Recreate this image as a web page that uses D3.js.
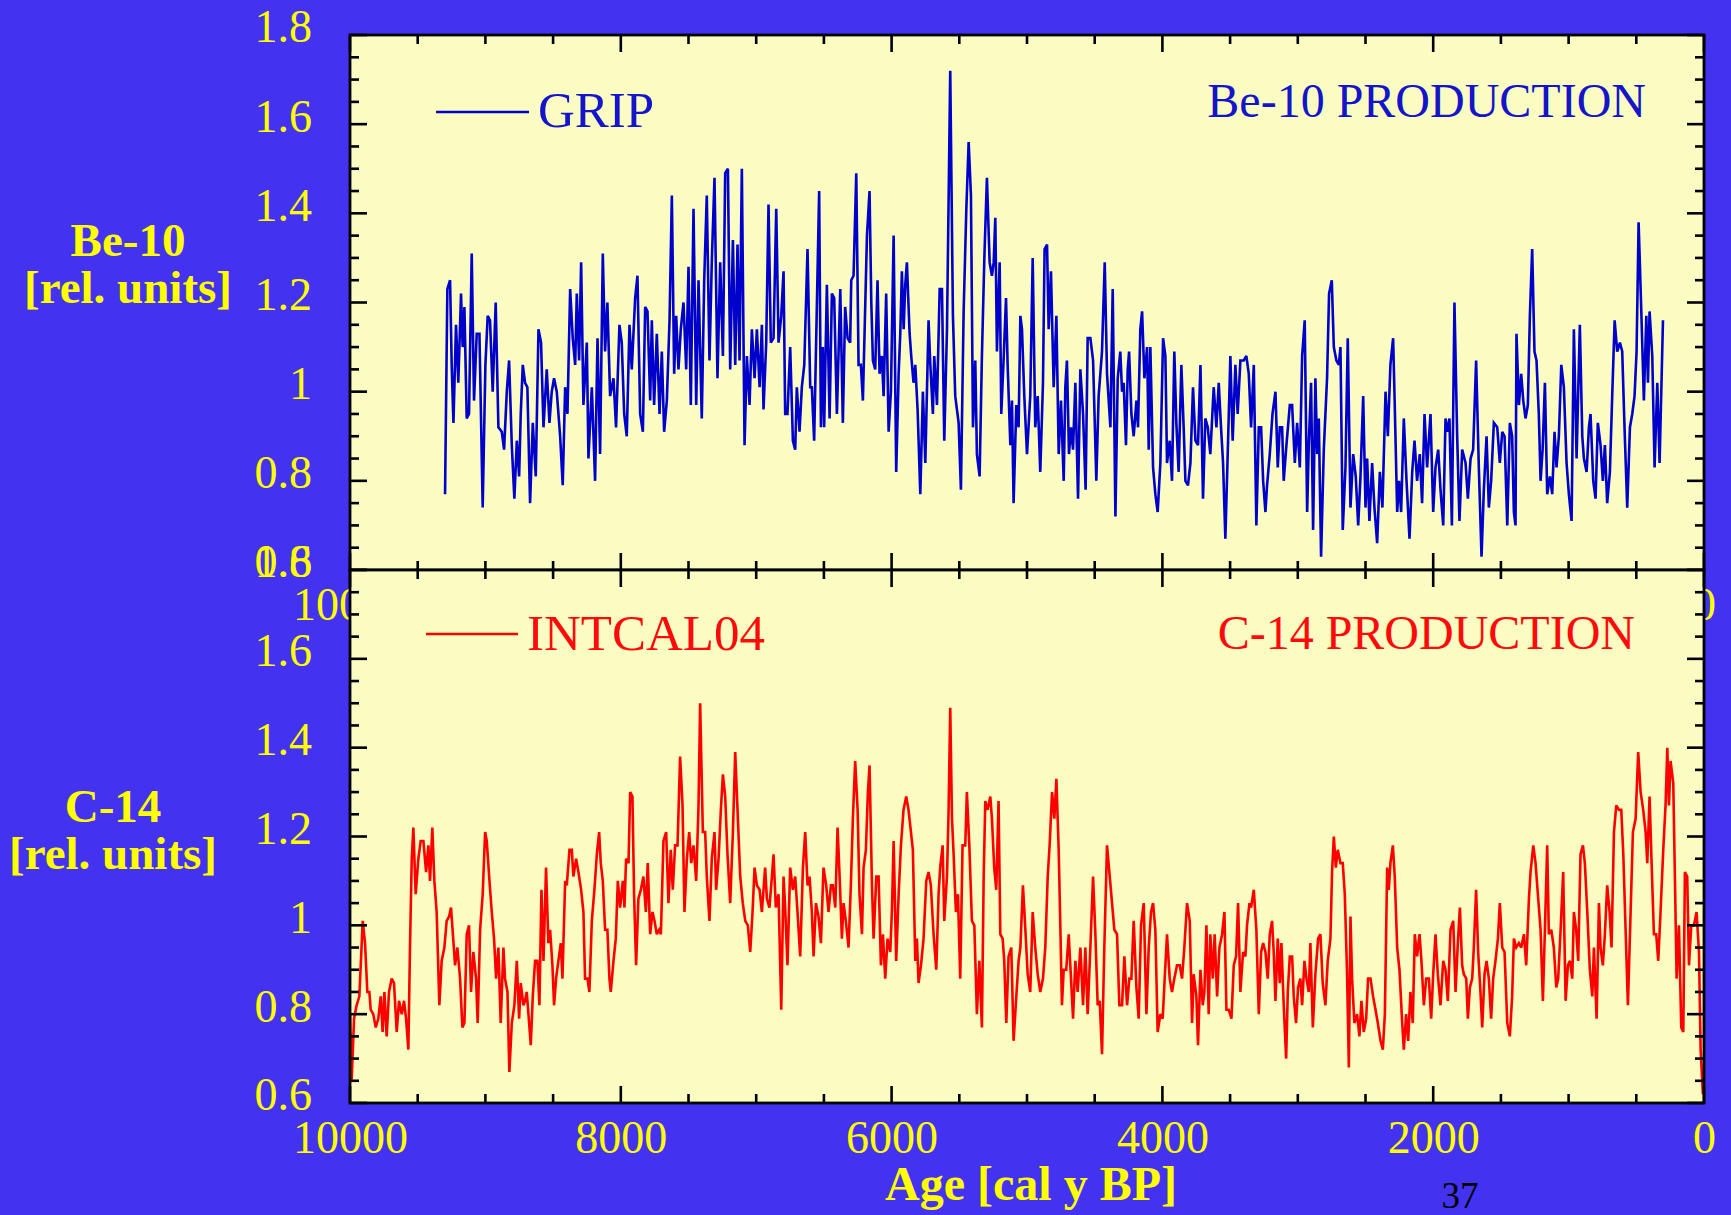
<!DOCTYPE html>
<html>
<head>
<meta charset="utf-8">
<script src="https://cdn.jsdelivr.net/npm/d3@7"></script>
<style>
  html, body { margin: 0; padding: 0; background: #4333f0; }
  svg { display: block; }
</style>
</head>
<body>
<svg id="chart" width="1731" height="1215"></svg>
<script>
// ---- tick definitions ----
const ageMajorTicks = [10000, 8000, 6000, 4000, 2000, 0];
const ageTickLabels = ["10000", "8000", "6000", "4000", "2000", "0"];
const valueMajorTicks = [0.6, 0.8, 1.0, 1.2, 1.4, 1.6, 1.8];
const valueTickLabels = ["0.6", "0.8", "1", "1.2", "1.4", "1.6", "1.8"];
const ageMinorStep = 500;
const valueMinorStep = 0.05;

// ---- series: [age (cal y BP), relative production] ----
const gripPoints = [
[9298,0.77],[9281,1.23],[9261,1.25],[9249,1.06],[9236,0.93],[9217,1.15],[9200,1.02],[9180,1.22],[9168,1.10],[9155,1.19],
[9138,0.94],[9121,0.95],[9101,1.31],[9084,0.98],[9064,1.13],[9044,1.13],[9020,0.74],[9000,1.06],[8983,1.17],[8966,1.16],
[8946,1.00],[8924,1.20],[8904,0.92],[8879,0.91],[8862,0.87],[8842,1.00],[8825,1.07],[8805,0.88],[8786,0.76],[8768,0.89],
[8751,0.81],[8739,0.95],[8724,1.06],[8707,1.02],[8690,1.01],[8670,0.75],[8650,0.93],[8628,0.81],[8608,1.14],[8589,1.11],
[8571,0.92],[8547,1.05],[8527,0.93],[8510,1.00],[8493,1.03],[8473,1.00],[8448,0.90],[8429,0.79],[8411,1.01],[8394,0.95],
[8374,1.23],[8355,1.12],[8337,1.06],[8325,1.22],[8308,1.07],[8293,1.29],[8276,0.97],[8251,1.11],[8239,0.85],[8214,1.01],
[8190,0.80],[8172,1.12],[8153,0.86],[8133,1.31],[8116,1.09],[8099,1.20],[8079,0.99],[8054,1.03],[8035,0.92],[8010,1.15],
[7993,1.11],[7975,0.95],[7956,0.90],[7936,1.15],[7919,1.05],[7894,1.21],[7877,1.26],[7857,0.95],[7837,0.91],[7820,1.19],
[7803,1.18],[7783,0.98],[7771,1.16],[7754,0.97],[7734,1.13],[7714,0.95],[7697,1.09],[7680,0.91],[7660,0.98],[7640,1.16],
[7623,1.44],[7606,1.04],[7591,1.17],[7574,1.05],[7557,1.14],[7537,1.20],[7517,1.05],[7500,1.28],[7483,0.97],[7463,1.41],
[7443,0.97],[7426,1.25],[7402,0.94],[7384,1.25],[7365,1.44],[7345,1.07],[7328,1.29],[7308,1.48],[7286,1.03],[7266,1.29],
[7246,1.08],[7229,1.49],[7209,1.50],[7192,1.05],[7172,1.34],[7155,1.06],[7138,1.33],[7123,1.07],[7106,1.50],[7086,0.88],
[7069,1.08],[7049,0.97],[7032,1.14],[7012,1.03],[6995,1.14],[6975,1.01],[6958,1.15],[6946,0.96],[6926,1.11],[6909,1.42],
[6892,1.11],[6872,1.12],[6852,1.41],[6835,1.11],[6815,1.17],[6798,1.27],[6786,0.95],[6769,0.95],[6749,1.10],[6729,0.89],
[6712,0.87],[6700,1.01],[6680,0.91],[6663,1.01],[6645,1.06],[6621,1.32],[6601,1.01],
[6589,1.01],[6572,0.89],[6535,1.45],[6522,0.92],[6508,1.10],[6498,0.92],[6478,1.24],[6458,0.94],[6441,1.22],[6424,1.21],
[6404,0.95],[6379,1.23],[6360,0.93],[6343,1.19],[6325,1.12],[6306,1.11],[6298,1.25],[6281,1.26],[6261,1.49],[6244,1.06],
[6227,1.06],[6212,0.98],[6182,1.35],[6163,1.45],[6150,1.20],[6138,1.07],[6121,1.05],[6104,1.25],[6089,1.04],[6072,1.08],
[6059,0.99],[6040,1.22],[6022,0.91],[6005,1.00],[5985,1.35],[5966,0.82],[5948,1.04],[5936,1.13],[5924,1.27],[5911,1.14],
[5899,1.24],[5887,1.29],[5867,1.13],[5855,1.08],[5838,1.02],[5825,1.06],[5808,0.96],[5788,0.77],[5769,1.00],[5751,0.84],
[5727,1.16],[5714,1.06],[5695,0.95],[5685,1.08],[5665,0.97],[5645,1.23],[5628,1.23],[5611,0.89],[5591,1.14],[5567,1.72],
[5547,1.17],[5530,0.99],[5505,0.93],[5488,0.78],[5468,1.18],[5448,1.41],[5431,1.56],[5414,1.44],[5399,0.92],[5382,1.07],
[5370,0.86],[5350,0.81],[5333,1.08],[5315,1.30],[5296,1.48],[5276,1.29],[5259,1.26],[5246,1.29],[5234,1.39],[5222,1.09],
[5202,1.29],[5190,0.95],[5173,1.07],[5155,1.21],[5143,1.06],[5123,0.88],[5111,0.98],[5099,0.75],[5079,0.97],[5062,0.92],
[5049,1.17],[5037,1.14],[5020,0.99],[5000,0.86],[4976,0.99],[4958,1.30],[4939,0.92],[4921,0.99],[4902,0.82],[4882,1.02],
[4870,1.32],[4852,1.33],[4840,1.14],[4823,1.27],[4803,1.01],[4783,1.17],[4766,0.86],[4749,0.98],[4729,0.80],[4717,1.01],
[4705,1.07],[4690,0.86],[4675,0.92],[4660,0.87],[4643,1.02],[4623,0.76],[4606,1.05],[4586,0.95],[4567,0.78],[4552,1.12],
[4532,1.12],[4512,1.07],[4488,0.80],[4471,0.99],[4446,1.09],[4426,1.29],[4409,1.04],[4384,0.92],[4367,1.23],[4347,0.72],
[4330,1.03],[4311,1.09],[4298,1.00],[4286,1.02],[4269,0.88],[4256,1.05],[4246,1.09],[4229,0.95],[4212,0.90],[4192,0.98],
[4180,0.92],[4163,1.14],[4150,1.18],[4133,1.03],[4113,1.10],[4101,0.87],[4089,1.10],[4069,0.83],[4052,0.77],[4035,0.73],
[4015,0.84],[3995,1.12],[3978,1.08],[3966,0.84],[3946,0.89],[3929,0.80],[3912,1.09],[3897,0.93],[3880,0.82],[3860,1.06],
[3843,0.92],[3830,0.80],[3811,0.79],[3793,0.84],[3774,1.01],[3756,0.89],[3737,0.88],[3719,1.06],[3700,0.76],[3683,0.94],
[3665,0.92],[3646,0.86],[3621,1.01],[3601,0.92],[3584,1.02],[3567,0.92],[3552,0.84],[3535,0.67],[3515,0.89],[3498,1.08],
[3481,0.89],[3461,1.06],[3444,0.95],[3424,1.07],[3399,1.07],[3380,1.08],[3362,1.04],[3345,0.92],[3325,1.06],[3306,0.70],
[3288,0.92],[3271,0.92],[3256,0.80],[3239,0.73],[3227,0.79],[3207,0.86],[3187,0.95],[3165,1.00],[3148,0.83],[3133,0.92],
[3116,0.92],[3104,0.80],[3084,0.88],[3059,0.97],[3042,0.97],[3022,0.84],[3005,0.93],[2985,0.83],[2968,1.08],[2949,1.16],
[2931,0.73],[2919,0.88],[2902,1.02],[2887,0.69],[2870,1.03],[2857,0.86],[2845,0.94],[2828,0.63],[2808,0.87],[2784,1.03],
[2769,1.22],[2749,1.25],[2734,1.10],[2715,1.07],[2697,1.06],[2685,1.10],[2668,0.69],[2648,0.83],[2631,1.12],[2611,0.74],
[2591,0.86],[2572,0.81],[2554,0.70],[2537,0.81],[2517,0.99],[2500,0.74],[2488,0.85],[2471,0.71],[2451,0.84],[2434,0.74],
[2414,0.66],[2394,0.82],[2375,0.74],[2352,1.00],[2335,0.90],[2316,1.06],[2296,1.12],[2284,0.97],[2266,0.73],[2252,0.80],
[2237,0.73],[2217,0.94],[2197,0.80],[2175,0.67],[2155,0.82],[2138,0.89],[2119,0.80],[2099,0.86],[2082,0.75],[2064,0.95],
[2045,0.83],[2020,0.95],[2000,0.73],[1983,0.83],[1963,0.87],[1946,0.78],[1926,0.70],[1909,0.94],[1897,0.91],[1880,0.94],
[1862,0.70],[1843,1.20],[1823,0.90],[1806,0.71],[1786,0.87],[1761,0.84],[1744,0.76],[1724,0.85],[1705,0.87],[1683,1.07],
[1663,0.83],[1643,0.63],[1626,0.78],[1606,0.90],[1589,0.74],[1572,0.80],[1552,0.93],[1527,0.92],[1508,0.84],[1490,0.91],
[1473,0.90],[1453,0.70],[1434,0.93],[1417,0.90],[1404,0.73],[1392,0.70],[1385,1.13],[1367,0.97],[1350,1.04],[1335,0.98],
[1318,0.94],[1301,0.97],[1286,1.17],[1269,1.32],[1252,1.09],[1237,1.07],[1220,0.95],[1207,0.80],[1192,0.87],[1175,1.02],
[1158,0.77],[1138,0.81],[1121,0.77],[1104,0.91],[1089,0.83],[1072,0.90],[1054,1.06],[1035,1.01],[1015,0.84],[998,0.77],
[978,0.71],[961,1.14],[941,0.85],[917,1.15],[899,0.90],[887,0.85],[867,0.82],[850,0.92],[838,0.95],[818,0.80],
[801,0.76],[784,0.93],[764,0.88],[747,0.80],[732,0.88],[715,0.75],[695,0.82],[678,0.99],[660,1.16],[641,1.09],
[621,1.11],[604,1.09],[587,0.92],[567,0.74],[547,0.92],[530,0.95],[513,0.99],[498,1.09],[483,1.38],[463,1.18],
[444,0.98],[426,1.17],[414,1.02],[402,1.18],[382,1.08],[365,0.83],[345,1.02],[328,0.84],[303,1.16]
];

const intcalPoints = [
[10000,0.80],[9988,0.65],[9970,0.79],[9951,0.82],[9931,0.84],[9906,1.01],[9889,0.96],[9872,0.85],[9857,0.85],[9847,0.81],
[9828,0.80],[9810,0.77],[9791,0.79],[9773,0.84],[9759,0.76],[9746,0.85],[9729,0.75],[9712,0.85],[9692,0.88],[9675,0.87],
[9655,0.76],[9638,0.83],[9618,0.80],[9601,0.83],[9586,0.79],[9569,0.72],[9557,0.95],[9544,1.15],[9532,1.22],[9515,1.07],
[9495,1.15],[9478,1.19],[9458,1.19],[9438,1.12],[9421,1.18],[9409,1.10],[9392,1.22],[9377,1.10],[9360,1.03],[9340,0.82],
[9323,0.92],[9303,0.95],[9286,1.01],[9268,1.02],[9254,1.04],[9224,0.91],[9207,0.95],[9187,0.88],[9170,0.77],[9155,0.78],
[9138,0.98],[9121,1.00],[9106,0.85],[9089,0.94],[9069,0.88],[9057,0.78],[9039,0.99],[9020,1.07],[9002,1.21],[8990,1.19],
[8970,1.10],[8953,1.03],[8936,0.97],[8921,0.88],[8904,0.95],[8887,0.78],[8867,0.95],[8855,0.88],[8837,0.85],[8823,0.67],
[8805,0.78],[8786,0.82],[8768,0.92],[8751,0.79],[8739,0.87],[8719,0.82],[8707,0.83],[8695,0.85],[8682,0.80],[8665,0.73],
[8650,0.84],[8633,0.92],[8616,0.92],[8601,0.82],[8586,1.08],[8571,0.92],[8552,1.13],[8535,0.96],[8522,0.99],[8505,0.91],
[8493,0.82],[8478,0.88],[8461,0.92],[8443,0.96],[8431,0.88],[8411,1.10],[8399,1.09],[8379,1.17],[8362,1.17],[8350,1.11],
[8330,1.15],[8313,1.12],[8293,1.08],[8276,1.03],[8264,0.88],[8246,0.88],[8232,0.85],[8214,1.01],[8195,1.08],[8177,1.16],
[8160,1.21],[8148,1.14],[8133,1.10],[8116,0.99],[8099,0.99],[8084,0.88],[8074,0.85],[8054,0.92],[8037,0.97],[8022,1.10],
[8005,1.04],[7985,1.10],[7973,1.04],[7961,1.15],[7943,1.14],[7931,1.30],[7914,1.29],[7902,1.07],[7887,0.91],[7870,1.06],
[7852,1.08],[7833,1.11],[7815,1.03],[7801,1.14],[7783,0.98],[7766,1.03],[7751,1.01],[7734,0.98],[7717,0.99],[7704,0.98],
[7685,1.19],[7665,1.21],[7648,1.05],[7631,1.17],[7616,1.08],[7599,1.18],[7581,1.18],[7562,1.38],[7544,1.27],[7530,1.03],
[7512,1.15],[7495,1.21],[7480,1.14],[7463,1.18],[7443,1.10],[7426,1.27],[7414,1.50],[7394,1.21],[7377,1.21],[7365,1.11],
[7345,1.01],[7328,1.15],[7308,1.21],[7296,1.08],[7278,1.15],[7261,1.26],[7246,1.34],[7229,1.29],[7212,1.16],[7192,1.05],
[7172,1.21],[7155,1.39],[7138,1.26],[7118,1.11],[7099,1.05],[7081,1.01],[7062,1.00],[7044,0.94],[7027,1.03],[7012,1.13],
[6995,1.09],[6975,1.08],[6958,1.03],[6934,1.13],[6921,1.06],[6902,1.04],[6884,1.11],[6872,1.16],[6855,1.04],[6835,1.07],
[6815,0.81],[6798,1.11],[6786,1.04],[6769,0.91],[6749,1.13],[6729,1.08],[6712,1.11],[6695,1.03],[6675,0.93],[6655,1.13],
[6638,1.21],[6621,1.09],
[6606,1.11],[6589,1.03],[6576,0.93],[6559,1.05],[6540,1.02],[6522,0.96],[6503,1.13],[6483,1.09],[6466,1.03],[6448,1.09],
[6434,1.09],[6416,1.04],[6399,1.22],[6384,1.11],[6367,0.97],[6355,1.05],[6338,1.01],[6318,0.95],[6301,1.09],[6286,1.24],
[6269,1.37],[6251,1.26],[6237,1.07],[6219,0.98],[6207,1.13],[6190,1.17],[6175,1.30],[6163,1.36],[6145,1.09],[6133,0.97],
[6113,1.11],[6096,1.11],[6079,0.91],[6064,0.98],[6047,0.88],[6030,0.97],[6010,0.94],[5998,1.03],[5985,1.19],[5966,0.92],
[5948,1.07],[5931,1.18],[5912,1.26],[5892,1.29],[5875,1.26],[5857,1.21],[5843,1.17],[5825,0.92],[5813,0.97],[5801,0.87],
[5783,0.91],[5764,0.97],[5744,1.10],[5727,1.12],[5710,1.09],[5690,0.98],[5670,0.90],[5653,1.07],[5641,1.13],[5623,1.18],
[5611,1.01],[5591,1.11],[5579,1.26],[5567,1.49],[5554,1.24],[5542,1.16],[5525,1.03],[5510,1.07],[5493,0.88],[5476,1.18],
[5456,1.18],[5444,1.30],[5426,1.18],[5407,1.01],[5389,1.00],[5370,0.80],[5352,0.92],[5333,0.77],[5320,1.11],[5308,1.28],
[5291,1.26],[5271,1.29],[5259,1.24],[5242,1.13],[5227,1.08],[5210,1.28],[5197,0.98],[5180,0.97],[5168,0.92],[5153,0.78],
[5136,0.93],[5116,0.95],[5099,0.74],[5079,0.84],[5062,0.92],[5049,0.95],[5030,1.09],[5012,0.99],[4995,0.89],[4976,0.85],
[4958,1.03],[4939,0.95],[4921,0.89],[4902,0.85],[4882,0.88],[4865,0.95],[4847,1.11],[4833,1.18],[4815,1.30],[4798,1.24],
[4783,1.33],[4766,1.17],[4754,1.00],[4742,0.82],[4729,0.90],[4710,0.90],[4692,0.98],[4675,0.88],[4660,0.79],[4643,0.92],
[4626,0.85],[4606,0.95],[4586,0.82],[4569,0.95],[4552,0.80],[4532,0.95],[4512,1.11],[4495,0.98],[4478,0.82],[4463,0.83],
[4446,0.71],[4429,0.95],[4409,1.18],[4389,1.11],[4372,1.05],[4355,0.99],[4335,0.98],[4318,0.82],[4298,0.82],[4281,0.93],
[4261,0.82],[4244,0.88],[4229,0.88],[4212,1.01],[4192,0.86],[4175,0.79],[4158,1.00],[4138,1.05],[4118,0.80],[4101,0.95],
[4084,1.03],[4069,1.05],[4052,0.99],[4035,0.76],[4015,0.80],[3998,0.79],[3983,0.88],[3966,0.98],[3946,0.88],[3929,0.85],
[3912,0.88],[3892,0.91],[3872,0.91],[3855,0.88],[3838,0.95],[3818,1.05],[3798,1.01],[3781,0.78],[3769,0.89],[3749,0.84],
[3737,0.73],[3719,0.90],[3702,0.82],[3690,0.85],[3675,1.00],[3658,0.80],[3646,0.98],[3628,0.88],[3614,0.98],[3596,0.84],
[3579,0.95],[3559,0.98],[3542,1.03],[3527,0.81],[3510,0.81],[3490,0.79],[3473,0.91],[3456,0.93],[3441,1.05],[3424,0.85],
[3404,0.94],[3387,0.93],[3375,1.00],[3357,1.05],[3345,1.04],[3325,1.08],
[3306,0.99],[3288,0.80],[3271,0.94],[3256,0.96],[3239,0.94],[3222,0.88],[3207,0.98],[3190,1.01],[3178,0.94],[3165,0.83],
[3148,0.97],[3133,0.87],[3121,0.96],[3104,0.82],[3086,0.70],[3074,0.85],[3059,0.93],[3042,0.93],[3030,0.84],[3013,0.78],
[2998,0.86],[2981,0.88],[2968,0.82],[2951,0.92],[2936,0.88],[2919,0.85],[2907,0.96],[2889,0.77],[2870,0.89],[2850,0.97],
[2833,0.98],[2816,0.87],[2796,0.82],[2779,0.92],[2759,0.97],[2747,1.12],[2734,1.20],[2719,1.13],[2705,1.17],[2685,1.14],
[2668,1.14],[2653,1.07],[2636,0.89],[2623,0.68],[2611,1.02],[2599,0.88],[2582,0.78],[2562,0.80],[2545,0.75],[2530,0.83],
[2513,0.76],[2495,0.79],[2481,0.88],[2463,0.88],[2444,0.84],[2426,0.81],[2409,0.78],[2389,0.74],[2372,0.72],[2357,0.80],
[2340,1.13],[2328,1.08],[2316,1.14],[2298,1.18],[2284,1.11],[2266,0.95],[2249,0.90],[2229,0.78],[2217,0.72],[2200,0.80],
[2185,0.74],[2168,0.85],[2151,0.78],[2136,0.98],[2119,0.93],[2101,0.98],[2087,0.92],[2069,0.82],[2052,0.88],[2032,0.88],
[2015,0.79],[2000,0.89],[1983,0.98],[1966,0.89],[1946,0.82],[1926,0.92],[1909,0.90],[1892,0.83],[1872,0.99],[1852,1.01],
[1835,0.85],[1818,0.96],[1803,1.04],[1786,0.91],[1774,0.89],[1756,0.88],[1744,0.79],[1729,0.86],[1712,0.88],[1700,0.95],
[1683,1.08],[1668,0.94],[1651,0.85],[1638,0.77],[1621,0.89],[1606,0.92],[1589,0.88],[1572,0.79],[1557,0.88],[1540,0.92],
[1522,0.97],[1508,1.05],[1490,0.95],[1473,0.94],[1453,0.78],[1434,0.75],[1417,0.84],[1404,0.97],[1387,0.95],[1367,0.96],
[1350,0.95],[1330,0.98],[1313,0.91],[1293,1.06],[1281,1.12],[1261,1.18],[1244,1.14],[1227,1.07],[1207,0.99],[1190,0.83],
[1175,0.99],[1158,1.18],[1146,0.98],[1128,0.99],[1109,0.95],[1091,0.86],[1077,0.88],[1059,0.99],[1040,1.12],[1022,0.83],
[1005,0.91],[990,0.92],[973,0.88],[961,1.03],[944,0.99],[929,0.92],[912,1.16],[894,1.18],[880,1.14],[862,1.03],
[843,0.90],[825,0.84],[813,0.95],[793,0.79],[776,1.05],[764,0.95],[747,0.91],[732,0.98],[715,1.09],[697,1.03],
[683,0.95],[665,1.21],[648,1.27],[628,1.26],[611,1.26],[596,1.16],[579,0.99],[562,0.82],[542,1.03],[525,1.21],
[505,1.24],[486,1.39],[468,1.30],[449,1.26],[431,1.21],[419,1.14],[402,1.29],[387,1.14],[370,0.98],[353,0.98],
[338,0.92],[321,1.03],[301,1.17],[284,1.27],[271,1.40],[259,1.27],[247,1.37],[227,1.32],[215,1.11],[202,0.88],
[185,1.00],[168,0.77],[153,0.76],[141,1.12],[124,1.11],[111,0.91],[94,1.00],[74,1.00],[55,1.03],[37,0.94],
[25,0.72],[8,0.62]
];

// ---- layout & styling ----
const FONT = "'Liberation Serif', 'Times New Roman', Times, serif";
const YELLOW = "#ffff00";
const PLOT_BG = "#fbfcc2";
const plotLeft = 350, plotRight = 1704;
const majorLen = 17, minorLen = 9;

// The upper panel's age labels sit under the lower panel; only the two
// end labels peek out past its edges.
const panels = [
  {
    id: "be10", top: 35, bottom: 570, points: gripPoints,
    color: "#0000cc", textColor: "#1414c8",
    ageLabels: [10000, 0],
    legend: "GRIP", legendLine: [436, 529, 77], legendText: [538, 92],
    title: "Be-10 PRODUCTION", titlePos: [1646, 82],
    axisTitle: ["Be-10", "[rel. units]"], axisTitleX: 128, axisTitleY: 221, axisTitleGap: 47
  },
  {
    id: "c14", top: 570, bottom: 1103, points: intcalPoints,
    color: "#ff0000", textColor: "#ff0a0a",
    ageLabels: ageMajorTicks,
    legend: "INTCAL04", legendLine: [426, 518, 64], legendText: [527, 80],
    title: "C-14 PRODUCTION", titlePos: [1635, 79],
    axisTitle: ["C-14", "[rel. units]"], axisTitleX: 113, axisTitleY: 252, axisTitleGap: 47
  }
];

const svg = d3.select("#chart");
svg.append("rect").attr("width", 1731).attr("height", 1215).attr("fill", "#4333f0");

const x = d3.scaleLinear().domain([10000, 0]).range([plotLeft, plotRight]);
const ageMinor = d3.range(0, 10001, ageMinorStep).filter(a => !ageMajorTicks.includes(a));
const valueMinor = d3.range(0.6, 1.8001, valueMinorStep)
  .map(v => +v.toFixed(2))
  .filter(v => !valueMajorTicks.some(m => Math.abs(m - v) < 1e-6));

panels.forEach(p => {
  const y = d3.scaleLinear().domain([0.6, 1.8]).range([p.bottom, p.top]);
  const g = svg.append("g").attr("class", "panel-" + p.id);

  // plot background
  g.append("rect")
    .attr("x", plotLeft).attr("y", p.top)
    .attr("width", plotRight - plotLeft).attr("height", p.bottom - p.top)
    .attr("fill", PLOT_BG);

  // series line
  const clipId = "clip-" + p.id;
  g.append("clipPath").attr("id", clipId).append("rect")
    .attr("x", plotLeft).attr("y", p.top)
    .attr("width", plotRight - plotLeft).attr("height", p.bottom - p.top);
  const line = d3.line().x(d => x(d[0])).y(d => y(d[1]));
  g.append("path")
    .datum(p.points)
    .attr("clip-path", `url(#${clipId})`)
    .attr("d", line)
    .attr("fill", "none")
    .attr("stroke", p.color)
    .attr("stroke-width", 2.6)
    .attr("stroke-linejoin", "miter")
    .attr("stroke-miterlimit", 3);

  // inward tick marks on all four sides
  const ticks = g.append("g").attr("stroke", "#000").attr("stroke-width", 2.6);
  const hTick = (age, len) => {
    ticks.append("line").attr("x1", x(age)).attr("x2", x(age)).attr("y1", p.top).attr("y2", p.top + len);
    ticks.append("line").attr("x1", x(age)).attr("x2", x(age)).attr("y1", p.bottom).attr("y2", p.bottom - len);
  };
  const vTick = (v, len) => {
    ticks.append("line").attr("x1", plotLeft).attr("x2", plotLeft + len).attr("y1", y(v)).attr("y2", y(v));
    ticks.append("line").attr("x1", plotRight).attr("x2", plotRight - len).attr("y1", y(v)).attr("y2", y(v));
  };
  ageMajorTicks.forEach(a => hTick(a, majorLen));
  ageMinor.forEach(a => hTick(a, minorLen));
  valueMajorTicks.forEach(v => vTick(v, majorLen));
  valueMinor.forEach(v => vTick(v, minorLen));

  // frame
  g.append("rect")
    .attr("x", plotLeft).attr("y", p.top)
    .attr("width", plotRight - plotLeft).attr("height", p.bottom - p.top)
    .attr("fill", "none").attr("stroke", "#000").attr("stroke-width", 2.8);

  // value tick labels
  const yAxis = d3.axisLeft(y)
    .tickValues(valueMajorTicks)
    .tickFormat((d, i) => valueTickLabels[i])
    .tickSize(0).tickPadding(38);
  const ya = g.append("g").attr("transform", `translate(${plotLeft},0)`).call(yAxis);
  ya.select(".domain").remove();
  ya.selectAll("text")
    .attr("dy", "0.15em")
    .attr("fill", YELLOW)
    .style("font-family", FONT).style("font-size", "46px");

  // age tick labels
  const xAxis = d3.axisBottom(x)
    .tickValues(p.ageLabels)
    .tickFormat(d => ageTickLabels[ageMajorTicks.indexOf(d)])
    .tickSize(0).tickPadding(17);
  const xa = g.append("g").attr("class", "age-labels").attr("transform", `translate(0,${p.bottom})`).call(xAxis);
  xa.select(".domain").remove();
  xa.selectAll("text")
    .attr("fill", YELLOW)
    .style("font-family", FONT).style("font-size", "46px");

  // legend
  g.append("line")
    .attr("x1", p.legendLine[0]).attr("x2", p.legendLine[1])
    .attr("y1", p.top + p.legendLine[2]).attr("y2", p.top + p.legendLine[2])
    .attr("stroke", p.color).attr("stroke-width", 2.6);
  g.append("text")
    .attr("x", p.legendText[0]).attr("y", p.top + p.legendText[1])
    .attr("fill", p.textColor)
    .style("font-family", FONT).style("font-size", "51px")
    .text(p.legend);

  // panel title
  g.append("text")
    .attr("x", p.titlePos[0]).attr("y", p.top + p.titlePos[1])
    .attr("text-anchor", "end")
    .attr("fill", p.textColor)
    .style("font-family", FONT).style("font-size", "48px")
    .text(p.title);

  // y axis title, two lines
  const yt = g.append("text")
    .attr("x", p.axisTitleX).attr("y", p.top + p.axisTitleY)
    .attr("text-anchor", "middle")
    .attr("fill", YELLOW)
    .style("font-family", FONT).style("font-size", "47px").style("font-weight", "bold");
  p.axisTitle.forEach((t, i) => {
    yt.append("tspan")
      .attr("x", p.axisTitleX)
      .attr("dy", i === 0 ? 0 : p.axisTitleGap)
      .text(t);
  });
});

// x axis title
svg.append("text")
  .attr("x", 1031).attr("y", 1200)
  .attr("text-anchor", "middle")
  .attr("fill", YELLOW)
  .style("font-family", FONT).style("font-size", "48px").style("font-weight", "bold")
  .text("Age [cal y BP]");

// page number
svg.append("text")
  .attr("x", 1460).attr("y", 1208)
  .attr("text-anchor", "middle")
  .attr("fill", "#000")
  .style("font-family", FONT).style("font-size", "37px")
  .text("37");
</script>
</body>
</html>
